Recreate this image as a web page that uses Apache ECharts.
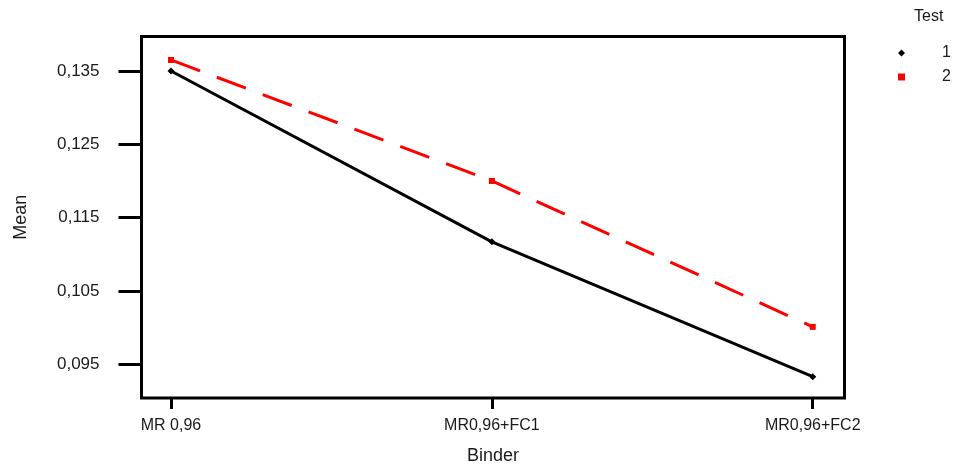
<!DOCTYPE html>
<html>
<head>
<meta charset="utf-8">
<script src="https://cdn.jsdelivr.net/npm/echarts@6/dist/echarts.min.js"></script>
<style>
  html, body { margin: 0; padding: 0; background: #fff; }
  #chart { width: 956px; height: 469px; }
</style>
</head>
<body>
<div id="chart"></div>
<script>
// Mean response per binder, one line per test
const binders = ['MR 0,96', 'MR0,96+FC1', 'MR0,96+FC2'];
const test1 = [0.1350, 0.1117, 0.0933];
const test2 = [0.1365, 0.1200, 0.1001];
const yTicks = [0.095, 0.105, 0.115, 0.125, 0.135];

const FONT = '"Liberation Sans", Arial, sans-serif';
const toPairs = vals => vals.map((v, i) => [i, v]);
const fmtComma = v => v.toFixed(3).replace('.', ',');

const chart = echarts.init(document.getElementById('chart'), null, { renderer: 'canvas' });
chart.setOption({
  animation: false,
  backgroundColor: '#ffffff',
  textStyle: { fontFamily: FONT },
  title: {
    text: 'Test',
    left: 909, top: 4,
    textStyle: { fontFamily: FONT, fontSize: 16, fontWeight: 'normal', color: '#1a1a1a' }
  },
  legend: {
    orient: 'vertical',
    left: 893, top: 40,
    itemWidth: 7, itemHeight: 7,
    itemGap: 8,
    data: [
      { name: '1', icon: 'diamond' },
      { name: '2', icon: 'rect' }
    ],
    textStyle: { fontFamily: FONT, fontSize: 16, color: '#1a1a1a', padding: [0, 0, 0, 32] }
  },
  grid: {
    left: 141.5, right: 111.5, top: 36.5, bottom: 71,
    outerBoundsMode: 'none',
    containLabel: false,
    show: true, borderColor: '#000', borderWidth: 3, backgroundColor: 'transparent'
  },
  xAxis: {
    type: 'value',
    min: -0.092, max: 2.099,
    name: 'Binder',
    nameLocation: 'middle',
    nameGap: 49,
    nameTextStyle: { fontFamily: FONT, fontSize: 18, color: '#1a1a1a', verticalAlign: 'top' },
    axisLine: { show: false, onZero: false },
    splitLine: { show: false },
    axisTick: { show: true, length: 11, lineStyle: { color: '#000', width: 3 }, customValues: [0, 1, 2] },
    axisLabel: {
      customValues: [0, 1, 2],
      margin: 20,
      fontFamily: FONT, fontSize: 16, color: '#1a1a1a',
      formatter: v => binders[Math.round(v)]
    }
  },
  yAxis: {
    type: 'value',
    min: 0.0904, max: 0.1397,
    name: 'Mean',
    nameLocation: 'middle',
    nameRotate: 90,
    nameGap: 111,
    nameTextStyle: { fontFamily: FONT, fontSize: 18, color: '#1a1a1a' },
    axisLine: { show: false, onZero: false },
    splitLine: { show: false },
    axisTick: { show: true, length: 23, lineStyle: { color: '#000', width: 3 }, customValues: yTicks },
    axisLabel: {
      customValues: yTicks,
      margin: 42,
      fontFamily: FONT, fontSize: 17, color: '#1a1a1a',
      formatter: v => fmtComma(v)
    }
  },
  series: [
    {
      name: '1',
      type: 'line',
      data: toPairs(test1),
      symbol: 'diamond', symbolSize: 7, showSymbol: true,
      itemStyle: { color: '#000' },
      lineStyle: { color: '#000', width: 3 },
      z: 3
    },
    {
      name: '2',
      type: 'line',
      data: toPairs(test2),
      symbol: 'rect', symbolSize: 6, showSymbol: true,
      itemStyle: { color: '#ff0000' },
      lineStyle: { color: '#ff0000', width: 3, type: [31, 18] },
      z: 2
    }
  ]
});
</script>
</body>
</html>
